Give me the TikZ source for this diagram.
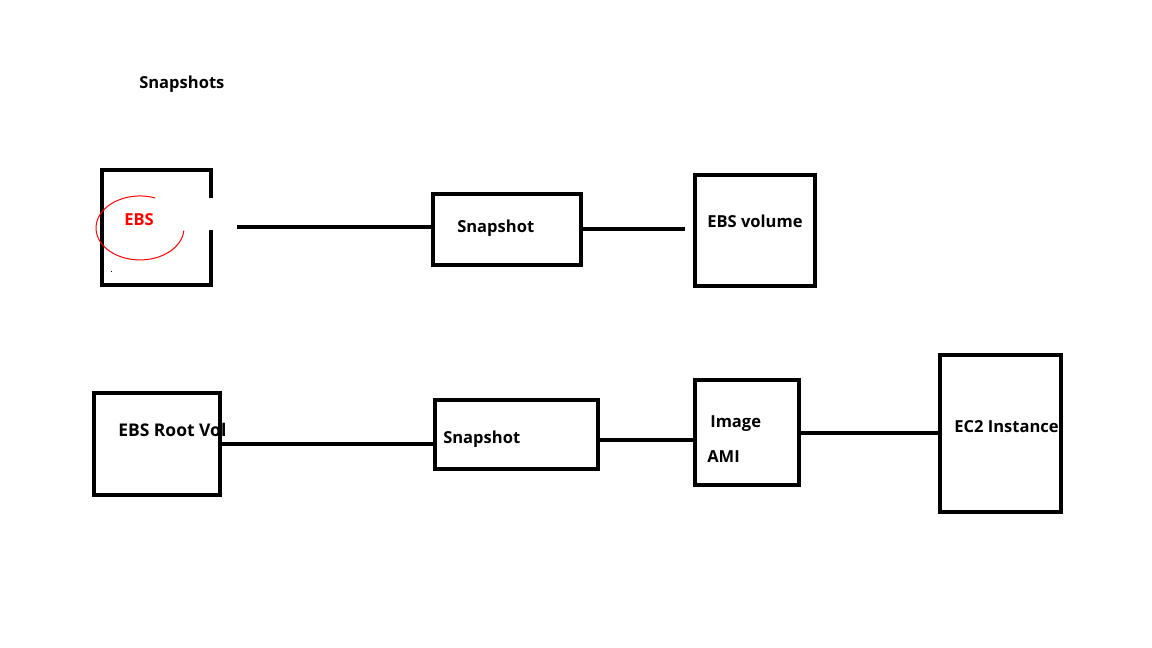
\documentclass[tikz,border=0pt]{standalone}
\usepackage{fontspec}
\setmainfont{Open Sans}
\usetikzlibrary{calc}

\begin{document}
\begin{tikzpicture}[x=0.75pt, y=-0.75pt,
        box/.style={draw, line width=3pt, inner sep=0pt},
        conn/.style={line width=3pt},
        lbl/.style={anchor=base west, inner sep=0pt, font=\fontsize{12.4pt}{15pt}\selectfont\bfseries}]
        \useasboundingbox (0, 0) rectangle (1152, 648);
        \node[lbl] (title) at (139, 89) {Snapshots};

        % top row
        \node[box, minimum width=81.75pt, minimum height=86.25pt] (ebs) at (156.5, 227.5) {};
        \fill[white] (208, 198) rectangle (215, 230);
        \node[box, minimum width=111pt, minimum height=53.25pt] (snapa) at (507, 229.5) {};
        \node[box, minimum width=90pt, minimum height=83.25pt] (vol) at (755, 230.5) {};
        \draw[red, line width=0.75pt] (155.05, 197.9) arc[start angle=290, end angle=5, x radius=44, y radius=32];
        \fill (110.5, 271) rectangle (112, 272.5);
        \node[lbl, red] (ebslbl) at (124, 226) {EBS};
        \node[lbl] (snapalbl) at (457, 233) {Snapshot};
        \node[lbl] (vollbl) at (707, 228) {EBS volume};
        \coordinate (ebsout) at ($(ebs.east)+(24, 0)$);
        \draw[conn] (ebsout) -- (ebsout -| snapa.west);
        \draw[conn] (snapa.east) -- ([xshift=-6pt]snapa.east -| vol.west);

        % bottom row
        \node[box, minimum width=94.5pt, minimum height=76.5pt] (root) at (157, 444) {};
        \node[box, minimum width=122.25pt, minimum height=51.75pt] (snapb) at (516.5, 434.5) {};
        \node[box, minimum width=78pt, minimum height=78.75pt] (ami) at (747, 432.5) {};
        \node[box, minimum width=90.75pt, minimum height=117.75pt] (ec2) at (1000.5, 433.5) {};
        \draw[conn] (root.east) -- (root.east -| snapb.west);
        \draw[conn] ([yshift=-3.75pt]snapb.east) -- ([yshift=-3.75pt]snapb.east -| ami.west);
        \draw[conn] (ami.east) -- (ami.east -| ec2.west);
        \node[lbl, font=\fontsize{13.1pt}{15pt}\selectfont\bfseries] (rootlbl) at (118, 436) {EBS Root Vol};
        \node[lbl] (snapblbl) at (443, 443) {Snapshot};
        \node[lbl] (imglbl) at (710, 427) {Image};
        \node[lbl] (amilbl) at (707, 462) {AMI};
        \node[lbl] (ec2lbl) at (954, 432) {EC2 Instance};
\end{tikzpicture}
\end{document}
